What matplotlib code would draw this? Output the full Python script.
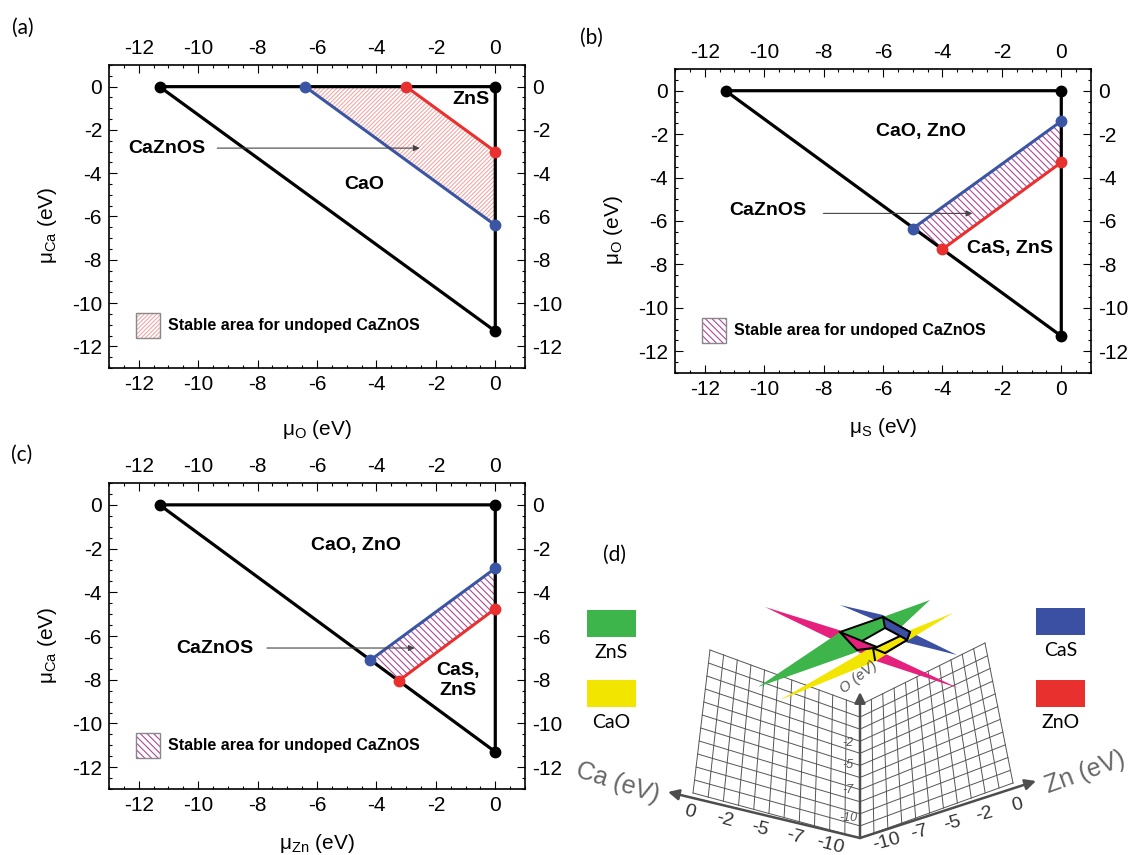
import numpy as np
import matplotlib.pyplot as plt
from matplotlib.patches import Polygon, Rectangle
from matplotlib.ticker import MultipleLocator

plt.rcParams['font.family'] = ['Liberation Sans', 'DejaVu Sans']
plt.rcParams['mathtext.fontset'] = 'custom'
plt.rcParams['mathtext.rm'] = 'Liberation Sans'
plt.rcParams['mathtext.it'] = 'Liberation Sans:italic'
plt.rcParams['axes.unicode_minus'] = False
plt.rcParams['hatch.linewidth'] = 0.8

W, H = 1129, 855
BLUE = '#3b55a5'
RED = '#e8312f'

# chemical potential limits (eV)
corner_pts = [(-11.3, 0.0), (0.0, 0.0), (0.0, -11.3)]
a_blue = [(-6.4, 0.0), (0.0, -6.4)]
a_red = [(-3.0, 0.0), (0.0, -3.0)]
b_blue = [(-5.0, -6.35), (0.0, -1.4)]
b_red = [(-4.0, -7.3), (0.0, -3.3)]
c_blue = [(-4.2, -7.1), (0.0, -2.9)]
c_red = [(-3.25, -8.05), (0.0, -4.75)]
ticks = np.arange(-12, 1, 2)

fig = plt.figure(figsize=(W / 100, H / 100), dpi=100)


def px_axes(l, t, r, b):
    return fig.add_axes([l / W, 1 - b / H, (r - l) / W, (b - t) / H])


def triangle_panel(ax, blue, red, hatch, hcolor, xlab, ylab, xl_y):
    tx, ty = zip(*(corner_pts + [corner_pts[0]]))
    ax.plot(tx, ty, color='black', lw=2.3, zorder=3)
    ax.plot(*zip(*corner_pts), 'o', color='black', ms=7.5, zorder=5)
    region = [blue[0], red[0], red[1], blue[1]]
    ax.add_patch(Polygon(region, closed=True, facecolor='white', edgecolor=hcolor,
                         hatch=hatch, lw=0, zorder=2))
    for seg, col in ((blue, BLUE), (red, RED)):
        xs, ys = zip(*seg)
        ax.plot(xs, ys, color=col, lw=2.2, zorder=4)
        ax.plot(xs, ys, 'o', color=col, ms=7.5, zorder=6)
    ax.set_xlim(-13, 1)
    ax.set_ylim(-13, 1)
    ax.set_xticks(ticks)
    ax.set_yticks(ticks)
    ax.xaxis.set_minor_locator(MultipleLocator(0.5))
    ax.yaxis.set_minor_locator(MultipleLocator(0.5))
    ax.tick_params(which='both', direction='in', top=True, right=True,
                   labeltop=True, labelright=True, labelsize=15, width=0.8)
    ax.tick_params(which='major', length=5.5, pad=5)
    ax.tick_params(which='minor', length=2.5)
    for s in ax.spines.values():
        s.set_linewidth(1.2)
    ax.set_xlabel(xlab, fontsize=15)
    ax.set_ylabel(ylab, fontsize=15)
    ax.xaxis.set_label_coords(0.5, xl_y)
    ax.yaxis.set_label_coords(-0.12, 0.47)

    # legend box
    lx0, lx1, ly0, ly1 = -12.1, -11.3, -11.6, -10.45
    ax.add_patch(Rectangle((lx0, ly0), lx1 - lx0, ly1 - ly0, facecolor='white',
                           edgecolor=hcolor, hatch=hatch, lw=0, zorder=2))
    ax.add_patch(Rectangle((lx0, ly0), lx1 - lx0, ly1 - ly0, facecolor='none',
                           edgecolor='#888888', lw=1, zorder=3))
    ax.text(-11.0, (ly0 + ly1) / 2, 'Stable area for undoped CaZnOS', fontsize=11.5,
            fontweight='bold', va='center', ha='left')


def arrow_label(ax, x0, x1, y, tx, ty):
    ax.text(tx, ty, 'CaZnOS', fontsize=14, fontweight='bold', ha='right', va='center')
    ax.annotate('', xy=(x1, y), xytext=(x0, y),
                arrowprops=dict(arrowstyle='-|>', color='#444444', lw=0.8,
                                mutation_scale=9), zorder=7)


# (a)
ax_a = px_axes(109, 65, 525, 368)
triangle_panel(ax_a, a_blue, a_red, '////////', '#f2a8a8',
               r'μ$_{\mathrm{O}}$ (eV)', r'μ$_{\mathrm{Ca}}$ (eV)', -0.165)
arrow_label(ax_a, -9.45, -2.45, -2.84, -9.75, -2.84)
ax_a.text(-4.4, -4.5, 'CaO', fontsize=14, fontweight='bold', ha='center', va='center')
ax_a.text(-0.82, -0.58, 'ZnS', fontsize=14, fontweight='bold', ha='center', va='center')

# (b)
ax_b = px_axes(675, 69, 1091, 373)
triangle_panel(ax_b, b_blue, b_red, '\\\\\\\\\\', '#b0489c',
               r'μ$_{\mathrm{S}}$ (eV)', r'μ$_{\mathrm{O}}$ (eV)', -0.14)
arrow_label(ax_b, -8.1, -2.9, -5.65, -8.57, -5.5)
ax_b.text(-4.72, -1.9, 'CaO, ZnO', fontsize=14, fontweight='bold', ha='center', va='center')
ax_b.text(-1.72, -7.26, 'CaS, ZnS', fontsize=14, fontweight='bold', ha='center', va='center')

# (c)
ax_c = px_axes(109, 483, 525, 789)
triangle_panel(ax_c, c_blue, c_red, '\\\\\\\\\\', '#b0489c',
               r'μ$_{\mathrm{Zn}}$ (eV)', r'μ$_{\mathrm{Ca}}$ (eV)', -0.14)
arrow_label(ax_c, -7.78, -2.62, -6.55, -8.13, -6.58)
ax_c.text(-4.68, -1.88, 'CaO, ZnO', fontsize=14, fontweight='bold', ha='center', va='center')
ax_c.text(-1.25, -8.05, 'CaS,\nZnS', fontsize=14, fontweight='bold', ha='center',
          va='center', linespacing=1.25)

# panel letters
for lab, x, y in (('(a)', 23, 28), ('(b)', 591, 38), ('(c)', 22, 455)):
    fig.text(x / W, 1 - y / H, lab, fontsize=15, family='Lato', ha='center', va='center')

# (d) schematic, drawn in pixel units of its own axes
ax_d = px_axes(560, 500, 1129, 855)
ax_d.set_xlim(560, 1129)
ax_d.set_ylim(855, 500)
ax_d.axis('off')

left_wall = np.array([[710, 650], [693, 793], [860, 838], [860, 705]])   # TL, BL, BR, TR
right_wall = np.array([[860, 705], [860, 838], [1013, 783], [985, 643]])
n_div = 11


def wall_point(c, u, v):
    top = c[0] + u * (c[3] - c[0])
    bot = c[1] + u * (c[2] - c[1])
    return top + v * (bot - top)


for wall in (left_wall, right_wall):
    s = np.linspace(0, 1, n_div + 1)
    for u in s:
        p = np.array([wall_point(wall, u, v) for v in (0, 1)])
        ax_d.plot(p[:, 0], p[:, 1], color='#555555', lw=0.7)
    for v in s:
        p = np.array([wall_point(wall, u, v) for u in (0, 1)])
        ax_d.plot(p[:, 0], p[:, 1], color='#555555', lw=0.7)

origin = (860, 838)
axis_tips = {'Ca': (668, 792), 'Zn': (1036, 781), 'O': (860, 692)}
for tip in axis_tips.values():
    ax_d.annotate('', xy=tip, xytext=origin,
                  arrowprops=dict(arrowstyle='-|>', color='#4d4d4d', lw=1.8,
                                  mutation_scale=16, shrinkA=0, shrinkB=0))

ca_ticks = ['0', '-2', '-5', '-7', '-10']
zn_ticks = ['-10', '-7', '-5', '-2', '0']
o_ticks = ['-2', '-5', '-7', '-10']
for lab, x, y in zip(ca_ticks, np.linspace(690, 830, 5), np.linspace(812, 845, 5)):
    ax_d.text(x, y, lab, fontsize=14, color='#333333', rotation=-15, ha='center', va='center')
for lab, x, y in zip(zn_ticks, np.linspace(887, 1017, 5), np.linspace(842, 805, 5)):
    ax_d.text(x, y, lab, fontsize=14, color='#333333', rotation=15, ha='center', va='center')
for lab, y in zip(o_ticks, (743, 765, 790, 818)):
    ax_d.text(848, y, lab, fontsize=9, color='#555555', style='italic', ha='center', va='center')
ax_d.text(859, 677, 'O (eV)', fontsize=10.5, color='#555555', style='italic', rotation=38,
          ha='center', va='center', zorder=6)
ax_d.text(618, 783, 'Ca (eV)', fontsize=18, color='#666666', rotation=-18, ha='center', va='center')
ax_d.text(1085, 772, 'Zn (eV)', fontsize=18, color='#666666', rotation=20, ha='center', va='center')

# stability stripes
stripes = {
    '#3b4fa3': [(840, 605), (883, 615), (910, 632), (957, 655), (905, 642), (880, 622)],
    '#e6207d': [(765, 607), (842, 631), (873, 648), (958, 688), (876, 661), (856, 651)],
    '#3db54a': [(758, 687), (840, 632), (883, 617), (930, 600), (900, 628), (857, 652)],
    '#f2e500': [(780, 700), (870, 648), (908, 631), (953, 613), (907, 641), (876, 661)],
}
for col, pts in stripes.items():
    ax_d.add_patch(Polygon(pts, closed=True, facecolor=col, edgecolor='none', zorder=3))

box_outline = [(840, 632), (883, 617), (910, 632), (907, 640), (885, 653), (873, 648), (857, 650)]
box_faces = [
    ('#3db54a', box_outline),
    ('#3b4fa3', [(883, 617), (910, 632), (907, 640), (900, 636), (885, 628)]),
    ('#f2e500', [(877, 647), (900, 636), (907, 640), (885, 653), (873, 648)]),
    ('#e6207d', [(840, 632), (862, 641), (877, 647), (873, 648), (857, 650)]),
    ('white', [(862, 641), (885, 628), (900, 636), (877, 647)]),
]
for col, pts in box_faces:
    ax_d.add_patch(Polygon(pts, closed=True, facecolor=col, edgecolor='black', lw=1.4, zorder=4))
ax_d.plot([873, 875], [648, 660], color='black', lw=1.4, zorder=5)

legend_d = [('#3db54a', 'ZnS', 587, 610), ('#f2e500', 'CaO', 587, 680),
            ('#3b4fa3', 'CaS', 1036, 608), ('#e8312f', 'ZnO', 1036, 680)]
for col, lab, x, y in legend_d:
    ax_d.add_patch(Rectangle((x, y), 49, 27, facecolor=col, edgecolor='none'))
    ax_d.text(x + 24.5, y + 42, lab, fontsize=14, family='Lato', ha='center', va='center')
ax_d.text(615, 555, '(d)', fontsize=15, family='Lato', ha='center', va='center')

fig.savefig('out.png', dpi=100)
